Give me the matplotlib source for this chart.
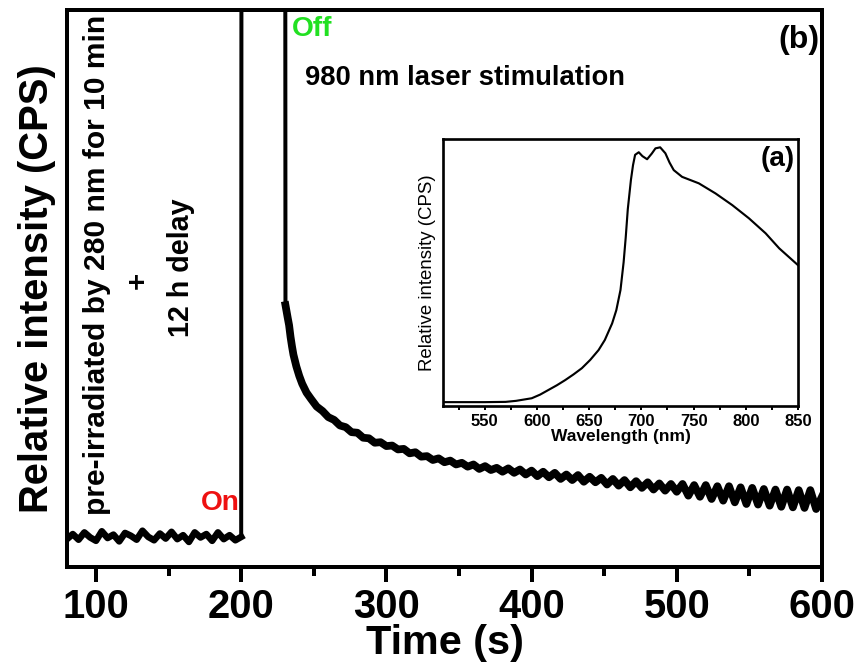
import matplotlib
matplotlib.use("Agg")
import matplotlib.pyplot as plt
from matplotlib.ticker import MultipleLocator
import numpy as np

plt.rcParams['font.family'] = ['Liberation Sans', 'DejaVu Sans']

#=======# data #=======#
# before stimulation: 280 nm pre-irradiation + 12 h delay, weak baseline
base_t = np.arange(80, 201, 4)
base_i = [5.0, 5.9, 4.9, 6.2, 5.3, 4.7, 6.4, 5.2, 5.8, 4.6, 6.1, 5.6, 4.9, 6.5, 5.4, 4.8,
          6.0, 5.1, 6.3, 5.0, 5.7, 4.5, 6.2, 5.3, 5.9, 4.7, 6.2, 5.0, 5.7, 4.8, 5.4]

# 980 nm laser on -> signal goes off scale
stim_t = [200.5, 230.0]
stim_i = [300.0, 300.0]

# laser off -> decay
decay_t = [230.5, 232, 233, 234, 235, 236, 238, 240, 242, 245, 248, 252, 256, 260, 264,
           268, 272, 276, 280, 284, 288, 292] + list(range(296, 601, 4))
decay_i = [47.0, 44.8, 43.4, 41.3, 39.6, 38.1, 36.0, 34.3, 32.9, 31.3, 30.2, 28.8, 28.0,
           26.9, 26.4, 25.4, 25.1, 24.2, 24.1, 23.2, 23.1, 22.3,
           22.4, 21.7, 21.8, 21.1, 21.2, 20.4, 20.6, 19.8, 19.9, 19.2, 19.5, 18.8, 19.1, 18.4,
           18.7, 18.0, 18.4, 17.6, 18.1, 17.4, 17.8, 17.1,
           17.7, 16.9, 17.5, 16.6, 17.3, 16.3, 17.1, 16.1, 16.9, 15.8, 16.6, 15.6, 16.5, 15.3,
           16.2, 15.2, 16.0, 14.8, 15.8, 14.6, 15.6, 14.3, 15.4, 14.2, 15.2, 13.9, 15.0, 13.7,
           14.9, 13.5,
           14.9, 12.8, 14.7, 12.6, 14.7, 12.2, 14.5, 11.9, 14.5, 11.6, 14.3, 11.3, 14.2, 11.2,
           14.0, 11.0, 13.9, 10.8, 13.9, 10.7, 13.8, 10.6, 13.8, 10.4, 12.6]

# inset (a): emission spectrum
wl = [510, 530, 550, 570, 580, 595, 603, 611, 619, 627, 635, 643, 651, 659, 665, 672, 676,
      680, 683, 685, 687, 690, 692, 694, 697.5, 701, 705.5, 710, 713.5, 718, 723, 727, 731,
      739, 755, 771, 787, 803, 819, 832, 850]
spec = [0.015, 0.015, 0.015, 0.016, 0.020, 0.030, 0.044, 0.062, 0.080, 0.100, 0.122, 0.146,
        0.178, 0.216, 0.255, 0.319, 0.370, 0.448, 0.555, 0.650, 0.760, 0.873, 0.930, 0.970,
        0.980, 0.965, 0.953, 0.975, 0.995, 0.999, 0.976, 0.94, 0.911, 0.885, 0.860, 0.821,
        0.776, 0.725, 0.667, 0.609, 0.544]

t = np.concatenate([base_t, stim_t, decay_t])
inten = np.concatenate([base_i, stim_i, decay_i])

#=======# main plot (b) #=======#
fig = plt.figure(figsize=(9, 7), dpi=96)
ax = fig.add_axes([0.0775, 0.1563, 0.8738, 0.8289])
# thin line for the on/off edges, thicker noisy band for the measured parts
ax.plot(t, inten, color='black', lw=3.0)
ax.plot(base_t, base_i, color='black', lw=5.0)
ax.plot(decay_t, decay_i, color='black', lw=5.8)
ax.set_xlim(80, 600)
ax.set_ylim(0, 100)
ax.set_yticks([])
ax.xaxis.set_major_locator(MultipleLocator(100))
ax.xaxis.set_minor_locator(MultipleLocator(50))
ax.tick_params(axis='x', which='major', direction='out', length=11, width=3,
               labelsize=30, pad=5)
ax.tick_params(axis='x', which='minor', direction='out', length=7, width=3)
for lab in ax.get_xticklabels():
    lab.set_fontweight('bold')
for s in ax.spines.values():
    s.set_linewidth(3)
ax.set_xlabel('Time (s)', fontsize=31, fontweight='bold', labelpad=-2)
ax.set_ylabel('Relative intensity (CPS)', fontsize=30, fontweight='bold', labelpad=8)

# annotations
ax.text(235, 96.6, 'Off', color='#22e022', fontsize=21, fontweight='bold',
        ha='left', va='center')
ax.text(199, 11.5, 'On', color='#ee1111', fontsize=21, fontweight='bold',
        ha='right', va='center')
ax.text(244, 87.8, '980 nm laser stimulation', fontsize=20.5, fontweight='bold',
        ha='left', va='center')
ax.text(598, 94.6, '(b)', fontsize=24, fontweight='bold', ha='right', va='center')
ax.text(100.5, 54.2, 'pre-irradiated by 280 nm for 10 min', rotation=90,
        fontsize=22.5, fontweight='bold', ha='center', va='center')
ax.text(128.5, 51.5, '+', rotation=90, fontsize=22, fontweight='bold',
        ha='center', va='center')
ax.text(158.5, 53.7, '12 h delay', rotation=90, fontsize=21.5, fontweight='bold',
        ha='center', va='center')

#=======# inset (a) #=======#
axi = fig.add_axes([0.5127, 0.3958, 0.4109, 0.3973])
axi.plot(wl, spec, color='black', lw=1.6)
axi.set_xlim(510, 850)
axi.set_ylim(0, 1.031)
axi.set_yticks([])
axi.xaxis.set_major_locator(MultipleLocator(50))
axi.xaxis.set_minor_locator(MultipleLocator(25))
axi.tick_params(axis='x', which='both', direction='out', length=3, width=1.5,
                labelsize=12.5, pad=3)
for lab in axi.get_xticklabels():
    lab.set_fontweight('bold')
for s in axi.spines.values():
    s.set_linewidth(2)
axi.set_xlabel('Wavelength (nm)', fontsize=13, fontweight='bold', labelpad=0)
axi.set_ylabel('Relative intensity (CPS)', fontsize=14, labelpad=5)
axi.text(0.99, 0.925, '(a)', transform=axi.transAxes, fontsize=21,
         fontweight='bold', ha='right', va='center')

fig.savefig('out.png', dpi=96)
